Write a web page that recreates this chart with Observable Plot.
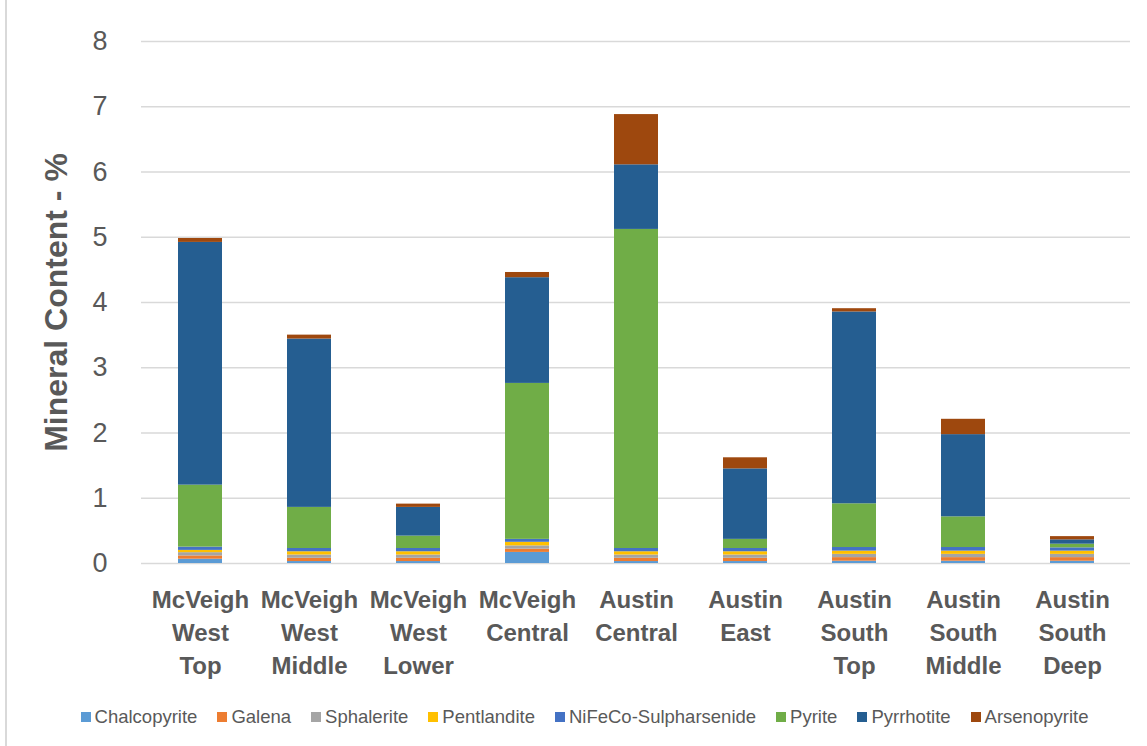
<!DOCTYPE html>
<html>
<head>
<meta charset="utf-8">
<script src="https://cdn.jsdelivr.net/npm/d3@7"></script>
<script src="https://cdn.jsdelivr.net/npm/@observablehq/plot@0.6"></script>
<style>
  html, body { margin: 0; padding: 0; background: #fff; }
  body { width: 1147px; height: 746px; position: relative; overflow: hidden; font-family: "Liberation Sans", Arial, sans-serif; }
  #frame { position: absolute; left: 5px; top: 0; bottom: 0; border-left: 2px solid #d9d9d9; }
  #legend { position: absolute; left: 0; top: 706px; width: 1147px; box-sizing: border-box; padding-left: 22px; display: flex; justify-content: center; gap: 20px; font-size: 18.5px; color: #595959; }
  #legend .item { display: flex; align-items: center; gap: 4px; white-space: nowrap; }
  #legend .sw { width: 10px; height: 10px; display: inline-block; }
</style>
</head>
<body>
<div id="frame"></div>
<div id="chart"></div>
<div id="legend"></div>
<script>
const categories = ["McVeigh West Top", "McVeigh West Middle", "McVeigh West Lower", "McVeigh Central", "Austin Central", "Austin East", "Austin South Top", "Austin South Middle", "Austin South Deep"];
const categoryLabels = ["McVeigh\nWest\nTop", "McVeigh\nWest\nMiddle", "McVeigh\nWest\nLower", "McVeigh\nCentral", "Austin\nCentral", "Austin\nEast", "Austin\nSouth\nTop", "Austin\nSouth\nMiddle", "Austin\nSouth\nDeep"];

const seriesNames = ["Chalcopyrite", "Galena", "Sphalerite", "Pentlandite", "NiFeCo-Sulpharsenide", "Pyrite", "Pyrrhotite", "Arsenopyrite"];
const seriesColors = ["#5B9BD5", "#ED7D31", "#A5A5A5", "#FFC000", "#4472C4", "#70AD47", "#255E91", "#9E480E"];

const chalcopyrite = [0.066, 0.03, 0.03, 0.17, 0.03, 0.03, 0.035, 0.035, 0.035];
const galena       = [0.05, 0.05, 0.05, 0.05, 0.05, 0.05, 0.055, 0.055, 0.055];
const sphalerite   = [0.05, 0.05, 0.05, 0.05, 0.05, 0.05, 0.05, 0.05, 0.05];
const pentlandite  = [0.035, 0.05, 0.05, 0.055, 0.05, 0.05, 0.05, 0.05, 0.05];
const nifeco       = [0.05, 0.05, 0.05, 0.045, 0.05, 0.05, 0.055, 0.055, 0.05];
const pyrite       = [0.95, 0.63, 0.19, 2.39, 4.89, 0.14, 0.67, 0.47, 0.056];
const pyrrhotite   = [3.72, 2.58, 0.44, 1.62, 0.99, 1.08, 2.94, 1.26, 0.066];
const arsenopyrite = [0.06, 0.06, 0.05, 0.08, 0.77, 0.17, 0.05, 0.235, 0.05];

const yTicks = [0, 1, 2, 3, 4, 5, 6, 7, 8];
const yTitle = "Mineral Content - %";

const seriesValues = [chalcopyrite, galena, sphalerite, pentlandite, nifeco, pyrite, pyrrhotite, arsenopyrite];
const rows = [];
categories.forEach((c, i) => {
  seriesNames.forEach((s, j) => {
    rows.push({category: c, mineral: s, value: seriesValues[j][i]});
  });
});
const labelOf = new Map(categories.map((c, i) => [c, categoryLabels[i]]));

const W = 1147, H = 700;
const chart = Plot.plot({
  width: W,
  height: H,
  marginLeft: 141,
  marginRight: 17,
  marginTop: 41,
  marginBottom: 137,
  style: {fontFamily: "'Liberation Sans', Arial, sans-serif", color: "#595959", background: "white"},
  x: {domain: categories, paddingInner: 0.6, paddingOuter: 0.3, label: null},
  y: {domain: [0, 8], label: null},
  color: {domain: seriesNames, range: seriesColors},
  marks: [
    Plot.gridY(yTicks, {stroke: "#d9d9d9", strokeOpacity: 1, strokeWidth: 1.5}),
    Plot.barY(rows, {x: "category", y: "value", fill: "mineral", order: null}),
    Plot.axisY(yTicks, {tickSize: 0, tickPadding: 34, fontSize: 27, fill: "#595959", label: null, tickFormat: d => String(d)}),
    Plot.axisX({tickSize: 0, tickPadding: 21, fontSize: 24, fontWeight: "bold", fill: "#595959", lineHeight: 1.375, tickFormat: d => labelOf.get(d), label: null}),
    Plot.text([yTitle], {frameAnchor: "left", rotate: -90, dx: -85, fontSize: 32, fontWeight: "bold", fill: "#595959", textAnchor: "middle", lineAnchor: "middle"})
  ]
});
document.getElementById("chart").appendChild(chart);

const legend = document.getElementById("legend");
seriesNames.forEach((s, j) => {
  const item = document.createElement("div");
  item.className = "item";
  const sw = document.createElement("span");
  sw.className = "sw";
  sw.style.background = seriesColors[j];
  const t = document.createElement("span");
  t.textContent = s;
  item.appendChild(sw);
  item.appendChild(t);
  legend.appendChild(item);
});
</script>
</body>
</html>
